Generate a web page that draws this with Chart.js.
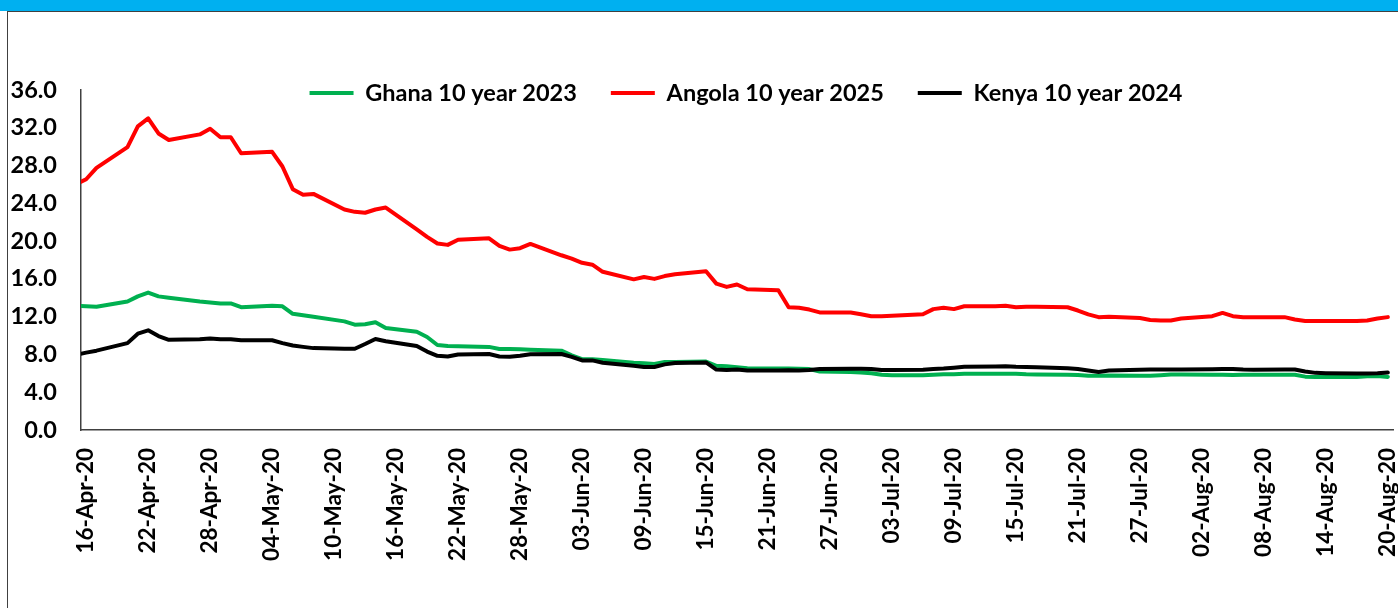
<!DOCTYPE html>
<html>
<head>
<meta charset="utf-8">
<title>10 year Eurobond yields</title>
<script src="https://cdn.jsdelivr.net/npm/chart.js@4.4.1/dist/chart.umd.min.js"></script>
<style>
    html, body { margin: 0; padding: 0; background: #fff; }
    body { width: 1398px; height: 608px; position: relative; overflow: hidden; }
    .topbar { position: absolute; left: 0; top: 0; width: 1398px; height: 11px; background: #00b0f0; }
    .frame { position: absolute; left: 7px; top: 11px; width: 1400px; height: 610px;
             border-left: 1px solid #404040; border-top: 1px solid #404040; }
    .wrap { position: absolute; left: 0; top: 0; width: 1398px; height: 608px; }
</style>
</head>
<body>
<div class="topbar"></div>
<div class="frame"></div>
<div class="wrap"><canvas id="yieldChart"></canvas></div>
<script>
// business days (first one sits just left of the axis start)
const dates = [
    '2020-04-15', '2020-04-16', '2020-04-17', '2020-04-20', '2020-04-21', '2020-04-22', '2020-04-23', '2020-04-24',
    '2020-04-27', '2020-04-28', '2020-04-29', '2020-04-30', '2020-05-01', '2020-05-04', '2020-05-05', '2020-05-06',
    '2020-05-07', '2020-05-08', '2020-05-11', '2020-05-12', '2020-05-13', '2020-05-14', '2020-05-15', '2020-05-18',
    '2020-05-19', '2020-05-20', '2020-05-21', '2020-05-22', '2020-05-25', '2020-05-26', '2020-05-27', '2020-05-28',
    '2020-05-29', '2020-06-01', '2020-06-02', '2020-06-03', '2020-06-04', '2020-06-05', '2020-06-08', '2020-06-09',
    '2020-06-10', '2020-06-11', '2020-06-12', '2020-06-15', '2020-06-16', '2020-06-17', '2020-06-18', '2020-06-19',
    '2020-06-22', '2020-06-23', '2020-06-24', '2020-06-25', '2020-06-26', '2020-06-29', '2020-06-30', '2020-07-01',
    '2020-07-02', '2020-07-03', '2020-07-06', '2020-07-07', '2020-07-08', '2020-07-09', '2020-07-10', '2020-07-13',
    '2020-07-14', '2020-07-15', '2020-07-16', '2020-07-17', '2020-07-20', '2020-07-21', '2020-07-22', '2020-07-23',
    '2020-07-24', '2020-07-27', '2020-07-28', '2020-07-29', '2020-07-30', '2020-07-31', '2020-08-03', '2020-08-04',
    '2020-08-05', '2020-08-06', '2020-08-07', '2020-08-10', '2020-08-11', '2020-08-12', '2020-08-13', '2020-08-14',
    '2020-08-17', '2020-08-18', '2020-08-19', '2020-08-20'
];

const ghana = [
    13.15, 13.1, 13.05, 13.6, 14.15, 14.55, 14.15, 14.0,
    13.6, 13.5, 13.4, 13.4, 13.0, 13.15, 13.1, 12.3,
    12.15, 12.0, 11.5, 11.15, 11.2, 11.4, 10.8, 10.4,
    9.85, 9.0, 8.9, 8.88, 8.8, 8.57, 8.57, 8.55,
    8.5, 8.4, 7.9, 7.5, 7.5, 7.4, 7.12, 7.07,
    7.0, 7.2, 7.2, 7.25, 6.8, 6.75, 6.65, 6.55,
    6.5, 6.5, 6.48, 6.45, 6.2, 6.15, 6.1, 6.0,
    5.85, 5.8, 5.8, 5.85, 5.9, 5.9, 5.95, 5.95,
    5.95, 5.95, 5.9, 5.88, 5.85, 5.82, 5.75, 5.75,
    5.78, 5.75, 5.74, 5.8, 5.88, 5.88, 5.85, 5.85,
    5.83, 5.85, 5.85, 5.85, 5.85, 5.65, 5.62, 5.6,
    5.6, 5.68, 5.72, 5.62
];

const angola = [
    26.0, 26.55, 27.75, 29.95, 32.15, 33.0, 31.4, 30.7,
    31.3, 31.9, 31.0, 31.0, 29.3, 29.45, 27.9, 25.5,
    24.9, 25.0, 23.35, 23.1, 23.0, 23.35, 23.55, 21.25,
    20.45, 19.75, 19.6, 20.15, 20.3, 19.5, 19.1, 19.25,
    19.7, 18.5, 18.15, 17.7, 17.5, 16.75, 15.95, 16.2,
    16.0, 16.3, 16.5, 16.8, 15.5, 15.15, 15.4, 14.9,
    14.8, 13.0, 12.95, 12.75, 12.45, 12.45, 12.25, 12.05,
    12.05, 12.1, 12.25, 12.8, 12.95, 12.8, 13.1, 13.1,
    13.15, 13.0, 13.05, 13.05, 13.0, 12.65, 12.25, 11.95,
    12.0, 11.85, 11.65, 11.6, 11.6, 11.8, 12.05, 12.4,
    12.05, 11.95, 11.95, 11.95, 11.7, 11.55, 11.55, 11.55,
    11.55, 11.6, 11.8, 11.95
];

const kenya = [
    7.95, 8.19, 8.4, 9.2, 10.2, 10.55, 9.95, 9.55,
    9.6, 9.7, 9.62, 9.6, 9.5, 9.5, 9.2, 8.95,
    8.8, 8.67, 8.6, 8.6, 9.1, 9.63, 9.4, 8.9,
    8.3, 7.85, 7.78, 8.0, 8.05, 7.78, 7.75, 7.87,
    8.03, 8.05, 7.75, 7.37, 7.37, 7.12, 6.8, 6.67,
    6.67, 6.95, 7.1, 7.15, 6.4, 6.35, 6.4, 6.3,
    6.3, 6.32, 6.3, 6.35, 6.45, 6.48, 6.48, 6.45,
    6.35, 6.35, 6.38, 6.45, 6.5, 6.6, 6.7, 6.72,
    6.75, 6.7, 6.68, 6.65, 6.55, 6.45, 6.3, 6.15,
    6.3, 6.38, 6.4, 6.4, 6.4, 6.4, 6.42, 6.45,
    6.45, 6.4, 6.38, 6.4, 6.4, 6.2, 6.05, 6.02,
    5.97, 5.97, 6.0, 6.08
];

const tickLabels = [
    '16-Apr-20', '22-Apr-20', '28-Apr-20', '04-May-20', '10-May-20', '16-May-20', '22-May-20', '28-May-20',
    '03-Jun-20', '09-Jun-20', '15-Jun-20', '21-Jun-20', '27-Jun-20', '03-Jul-20', '09-Jul-20', '15-Jul-20',
    '21-Jul-20', '27-Jul-20', '02-Aug-20', '08-Aug-20', '14-Aug-20', '20-Aug-20'
];

const yTicks = [0, 4, 8, 12, 16, 20, 24, 28, 32, 36];

// day number counted from 16-Apr-20
const DAY = 86400000;
const base = Date.UTC(2020, 3, 16);
const months = { Apr: 3, May: 4, Jun: 5, Jul: 6, Aug: 7 };
function isoDay(s) {
    const p = s.split('-');
    return (Date.UTC(+p[0], +p[1] - 1, +p[2]) - base) / DAY;
}
function labelDay(s) {
    const p = s.split('-');
    return (Date.UTC(2000 + +p[2], months[p[1]], +p[0]) - base) / DAY;
}
const dayX = dates.map(isoDay);
const tickDays = tickLabels.map(labelDay);
const pts = vals => vals.map((v, i) => ({ x: dayX[i], y: v }));

const boldFont = size => ({ family: 'Lato', size: size, weight: 'bold' });
const axisColor = '#404040';

// the legend sits over the top of the plot, as in the sheet
const legendNudge = {
    id: 'legendNudge',
    afterLayout(chart) {
        const lg = chart.legend;
        const pad = lg.options.labels.padding;
        const fs = lg.options.labels.font.size;
        const h = lg.height;
        lg.top = 93 - pad - fs / 2;
        lg.bottom = lg.top + h;
        const shift = 746 - (lg.left + lg.right) / 2;
        lg.left += shift;
        lg.right += shift;
    }
};

document.addEventListener('DOMContentLoaded', function() {
    const ctx = document.getElementById('yieldChart').getContext('2d');
    new Chart(ctx, {
        type: 'line',
        data: {
            datasets: [{
                label: 'Ghana 10 year 2023',
                data: pts(ghana),
                borderColor: '#00b050',
                backgroundColor: '#00b050',
                order: 3
            }, {
                label: 'Angola 10 year 2025',
                data: pts(angola),
                borderColor: '#ff0000',
                backgroundColor: '#ff0000',
                order: 2
            }, {
                label: 'Kenya 10 year 2024',
                data: pts(kenya),
                borderColor: '#000000',
                backgroundColor: '#000000',
                order: 1
            }]
        },
        plugins: [legendNudge],
        options: {
            responsive: true,
            maintainAspectRatio: false,
            animation: false,
            layout: { padding: { top: 22.5, right: 5, bottom: 0, left: 0 } },
            elements: {
                line: { borderWidth: 4, tension: 0, borderJoinStyle: 'round', borderCapStyle: 'round' },
                point: { radius: 0, hoverRadius: 0, borderWidth: 4 }
            },
            plugins: {
                tooltip: { enabled: false },
                legend: {
                    position: 'top',
                    align: 'center',
                    labels: {
                        font: boldFont(23.5),
                        color: '#000',
                        padding: 34,
                        usePointStyle: true,
                        pointStyle: 'line',
                        pointStyleWidth: 44,
                        sort: (a, b) => a.datasetIndex - b.datasetIndex
                    }
                }
            },
            scales: {
                x: {
                    type: 'linear',
                    min: -0.5,
                    max: 126.5,
                    grid: { display: false, drawTicks: false },
                    border: { display: true, color: axisColor, width: 1.5 },
                    afterBuildTicks: axis => { axis.ticks = tickDays.map(v => ({ value: v })); },
                    afterFit: axis => { axis.height = 178; axis.paddingLeft = 0; axis.paddingRight = 0; },
                    ticks: {
                        autoSkip: false,
                        minRotation: 90,
                        maxRotation: 90,
                        padding: 18,
                        color: '#000',
                        font: boldFont(22.5),
                        callback: value => tickLabels[tickDays.indexOf(value)]
                    }
                },
                y: {
                    min: 0,
                    max: 36,
                    grid: { display: false, drawTicks: false },
                    border: { display: true, color: axisColor, width: 1.5 },
                    afterBuildTicks: axis => { axis.ticks = yTicks.map(v => ({ value: v })); },
                    afterFit: axis => { axis.width = 81; axis.paddingTop = 0; axis.paddingBottom = 0; },
                    ticks: {
                        padding: 24,
                        color: '#000',
                        font: boldFont(23.5),
                        callback: value => value.toFixed(1)
                    }
                }
            }
        }
    });
});
</script>
</body>
</html>
